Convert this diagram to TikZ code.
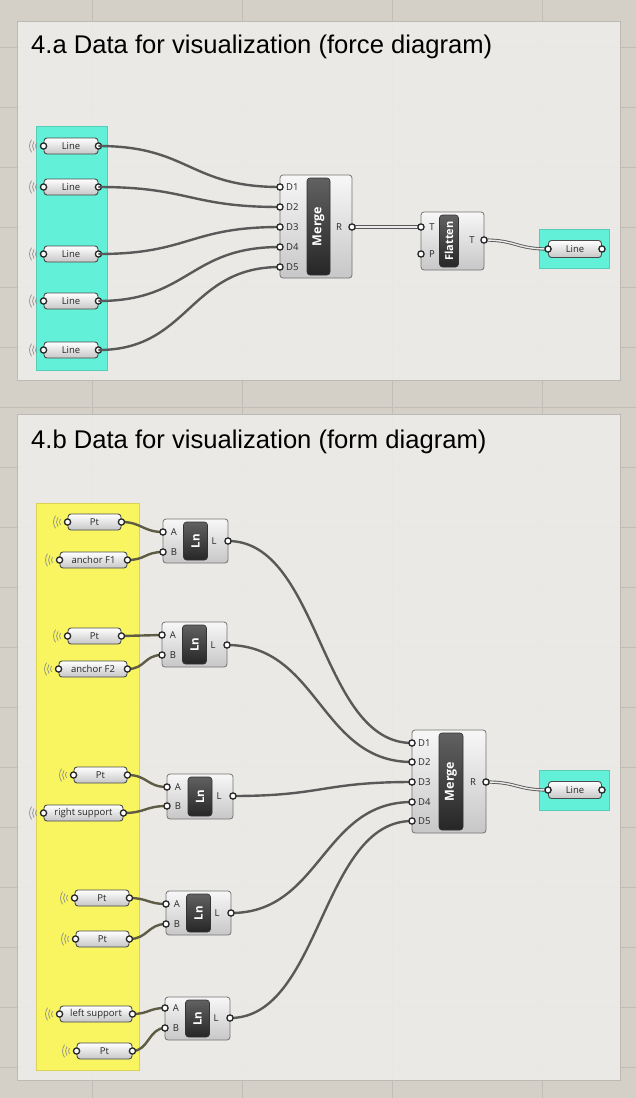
\documentclass[tikz,border=0pt]{standalone}
\usepackage{fontspec}
\setmainfont{Liberation Sans}
\newfontfamily\ghfont{Open Sans}
\usetikzlibrary{calc}

\definecolor{canvas}{HTML}{D4D0C8}
\definecolor{gridc}{HTML}{C2BEB7}
\definecolor{panelfill}{HTML}{EEECE9}
\definecolor{panelline}{HTML}{BDBAB4}
\definecolor{cyangrp}{HTML}{62F0D8}
\definecolor{cyanline}{HTML}{55CDB9}
\definecolor{yellowgrp}{HTML}{F8F560}
\definecolor{yellowline}{HTML}{D9D256}
\definecolor{wirec}{HTML}{595959}
\definecolor{wireol}{HTML}{5E5C44}
\definecolor{objline}{HTML}{4A4A4A}

\tikzset{
  gridline/.style={draw=gridc, line width=0.6pt},
  panel/.style={draw=panelline, fill=panelfill, fill opacity=0.9, line width=0.8pt},
  title/.style={font=\fontsize{25.6}{29}\selectfont, text=black, inner sep=0pt},
  grp/.style={line width=0.7pt},
  prm/.style={draw=objline, line width=0.9pt, rounded corners=3pt,
    top color=white, bottom color=black!22, minimum height=16pt, inner sep=0pt,
    font=\ghfont\fontsize{9.5}{11}\selectfont, text=black!85},
  compbox/.style={draw=black!55, line width=0.8pt, rounded corners=3pt,
    top color=black!3, bottom color=black!22, inner sep=0pt},
  bar/.style={draw=black!80, line width=0.6pt, rounded corners=3pt,
    top color=black!62, bottom color=black!85, inner sep=0pt},
  bartext/.style={rotate=90, text=white, inner sep=0pt,
    font=\ghfont\bfseries\fontsize{12.5}{12.5}\selectfont},
  plabel/.style={inner sep=0pt, text=black!85, font=\ghfont\fontsize{9.5}{11}\selectfont},
  portst/.style={draw=black!85, fill=white, line width=1.3pt},
  wire/.style={draw=wirec, line width=2.4pt},
  wireolive/.style={draw=wireol, line width=2.4pt},
  treewire/.style={draw=wirec, line width=0.9pt, double=black!8, double distance=1.4pt},
  wl/.style={draw=black!45, line width=0.7pt}
}

% ports: small open circle on an object edge
\newcommand\port[1]{\draw[portst] (#1) circle (3.1pt);}
% wireless marks "(((" to the left of a parameter
\newcommand\wless[1]{%
  \foreach \rr in {5,8,11}{%
    \draw[wl] ($(#1)+(-3pt,0pt)+(145:\rr pt)$) arc[start angle=145, end angle=215, radius=\rr pt];}}
% a Grasshopper wire with horizontal tangents
\newcommand\wire[4][wire]{\draw[#1] (#2) .. controls +(#4,0) and +(-#4,0) .. (#3);}

\begin{document}
\begin{tikzpicture}[x=1pt,y=-1pt]
\useasboundingbox (0,0) rectangle (636,1098);
\fill[canvas] (0,0) rectangle (636,1098);

% canvas grid
\foreach \gx in {92,242,392,542} \draw[gridline] (\gx,0) -- (\gx,1098);
\foreach \gy in {47,107,167,227,287,347,407,467,527,587,647,707,767,827,887,947,1007,1067}
  \draw[gridline] (0,\gy) -- (636,\gy);

% panels
\draw[panel] (17,21) rectangle (620,380);
\draw[panel] (17,414) rectangle (620,1080);
\node[title, anchor=base west] (titleA) at (31,53) {4.a Data for visualization (force diagram)};
\node[title, anchor=base west] (titleB) at (31,448) {4.b Data for visualization (form diagram)};

%% ---------------- 4.a ----------------
\draw[grp, draw=cyanline, fill=cyangrp] (36,126) rectangle (107,370);
\draw[grp, draw=cyanline, fill=cyangrp] (539,229) rectangle (609,268);

\foreach \n/\yy in {l1/146,l2/187,l3/254,l4/301,l5/350}{
  \node[prm, minimum width=54pt] (\n) at (71,\yy) {Line};
  \wless{\n.west}
  \port{\n.west} \port{\n.east}
}

% Merge
\node[compbox, minimum width=72pt, minimum height=103pt] (mA) at (316,226.5) {};
\node[bar, minimum width=23pt, minimum height=97pt] (mAbar) at (318.5,226.5) {};
\node[bartext] (mAtxt) at (mAbar) {Merge};
\foreach \i/\yy in {1/187,2/207,3/227,4/247,5/267}{
  \coordinate (mA-\i) at (280,\yy);
  \node[plabel, anchor=west] (mAl\i) at (286,\yy) {D\i};
}
\coordinate (mA-R) at (352,227);
\node[plabel] (mAR) at (339,227) {R};

% Flatten
\node[compbox, minimum width=63pt, minimum height=58pt] (fl) at (452.5,241) {};
\node[bar, minimum width=19pt, minimum height=52pt] (flbar) at (449,241) {};
\node[bartext, font=\ghfont\bfseries\fontsize{11}{11}\selectfont] (fltxt) at (flbar) {Flatten};
\coordinate (fl-T) at (421,227);
\coordinate (fl-P) at (421,254);
\coordinate (fl-O) at (484,240);
\node[plabel] (flTl) at (432,227) {T};
\node[plabel] (flPl) at (432,254) {P};
\node[plabel] (flOl) at (472,240) {T};

\node[prm, minimum width=53pt, minimum height=17pt] (loA) at (575,249) {Line};

% wires 4.a
\wire{l1.east}{mA-1}{91}
\wire{l2.east}{mA-2}{91}
\wire{l3.east}{mA-3}{91}
\wire{l4.east}{mA-4}{91}
\wire{l5.east}{mA-5}{91}
\draw[treewire] (mA-R) -- (fl-T);
\wire[treewire]{fl-O}{loA.west}{32}

\foreach \c in {mA-1,mA-2,mA-3,mA-4,mA-5,mA-R,fl-T,fl-P,fl-O,loA.west,loA.east} {\port{\c}}

%% ---------------- 4.b ----------------
\draw[grp, draw=yellowline, fill=yellowgrp] (36,503) rectangle (139,1070);
\draw[grp, draw=cyanline, fill=cyangrp] (539,770) rectangle (609,810);

\node[prm, minimum width=53pt] (p1) at (94.5,522) {Pt};
\node[prm, minimum width=67pt] (a1) at (93.5,560) {anchor F1};
\node[prm, minimum width=53pt] (p2) at (94.5,636) {Pt};
\node[prm, minimum width=68pt] (a2) at (93,669) {anchor F2};
\node[prm, minimum width=53pt] (p3) at (100.5,775) {Pt};
\node[prm, minimum width=79pt] (rs) at (83.5,813) {right support};
\node[prm, minimum width=54pt] (p4) at (102,898) {Pt};
\node[prm, minimum width=53pt] (p5) at (102.5,939) {Pt};
\node[prm, minimum width=72pt] (ls) at (96,1014) {left support};
\node[prm, minimum width=55pt] (p6) at (104.5,1051) {Pt};
\foreach \n in {p1,a1,p2,a2,p3,rs,p4,p5,ls,p6}{\wless{\n.west}}

% Ln components: name / x-left / x-right / y-top / y-bottom / yA / yB / yL
\foreach \n/\xa/\xb/\ya/\yb/\yA/\yB/\yL in {
  ln1/163/228/519/563/532/552/541,
  ln2/162/227/622/667/635/655/645,
  ln3/167/233/774/819/787/806/796,
  ln4/166/231/891/935/904/924/913,
  ln5/165/230/997/1040/1008/1028/1018}{
  \pgfmathsetmacro\cx{(\xa+\xb)/2}
  \pgfmathsetmacro\cy{(\ya+\yb)/2}
  \pgfmathsetmacro\ww{\xb-\xa}
  \pgfmathsetmacro\hh{\yb-\ya}
  \pgfmathsetmacro\bh{\hh-6}
  \node[compbox, minimum width=\ww pt, minimum height=\hh pt] (\n) at (\cx,\cy) {};
  \node[bar, minimum width=24pt, minimum height=\bh pt] (\n bar) at (\cx,\cy) {};
  \node[bartext, font=\ghfont\bfseries\fontsize{11.5}{11.5}\selectfont] (\n txt) at (\n bar) {Ln};
  \coordinate (\n-A) at (\xa,\yA);
  \coordinate (\n-B) at (\xa,\yB);
  \coordinate (\n-L) at (\xb,\yL);
  \node[plabel] (\n Al) at (\xa+11,\yA) {A};
  \node[plabel] (\n Bl) at (\xa+11,\yB) {B};
  \node[plabel] (\n Ll) at (\xb-14,\yL) {L};
}

% Merge
\node[compbox, minimum width=74pt, minimum height=103pt] (mB) at (449,781.5) {};
\node[bar, minimum width=24pt, minimum height=97pt] (mBbar) at (451,781.5) {};
\node[bartext] (mBtxt) at (mBbar) {Merge};
\foreach \i/\yy in {1/743,2/762,3/782,4/802,5/821}{
  \coordinate (mB-\i) at (412,\yy);
  \node[plabel, anchor=west] (mBl\i) at (418,\yy) {D\i};
}
\coordinate (mB-R) at (486,782);
\node[plabel] (mBR) at (473,782) {R};

\node[prm, minimum width=53pt, minimum height=17pt] (loB) at (575,790) {Line};

% wires 4.b
\wire[wireolive]{p1.east}{ln1-A}{20}
\wire[wireolive]{a1.east}{ln1-B}{18}
\wire[wireolive]{p2.east}{ln2-A}{20}
\wire[wireolive]{a2.east}{ln2-B}{18}
\wire[wireolive]{p3.east}{ln3-A}{20}
\wire[wireolive]{rs.east}{ln3-B}{22}
\wire[wireolive]{p4.east}{ln4-A}{18}
\wire[wireolive]{p5.east}{ln4-B}{18}
\wire[wireolive]{ls.east}{ln5-A}{16}
\wire[wireolive]{p6.east}{ln5-B}{16}
\wire{ln1-L}{mB-1}{92}
\wire{ln2-L}{mB-2}{92}
\wire{ln3-L}{mB-3}{90}
\wire{ln4-L}{mB-4}{90}
\wire{ln5-L}{mB-5}{91}
\wire[treewire]{mB-R}{loB.west}{31}

\foreach \c in {p1,a1,p2,a2,p3,rs,p4,p5,ls,p6,loB}{\port{\c.west} \port{\c.east}}
\foreach \n in {ln1,ln2,ln3,ln4,ln5}{\port{\n-A} \port{\n-B} \port{\n-L}}
\foreach \c in {mB-1,mB-2,mB-3,mB-4,mB-5,mB-R}{\port{\c}}
\end{tikzpicture}
\end{document}
